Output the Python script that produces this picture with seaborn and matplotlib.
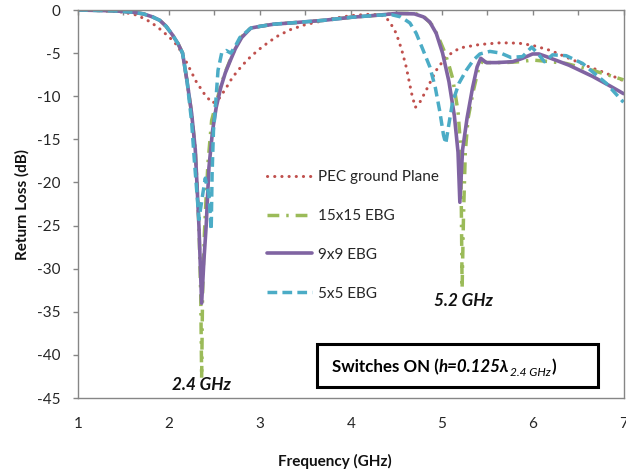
import matplotlib
matplotlib.use("Agg")
import matplotlib.pyplot as plt
from matplotlib.patches import Rectangle
import numpy as np
import pandas as pd
import seaborn as sns

# ---------------- data ----------------
series_names = ["PEC ground Plane", "15x15 EBG", "9x9 EBG", "5x5 EBG"]

pec_x = [1.0, 1.3, 1.5, 1.65, 1.8, 1.9, 2.0, 2.1, 2.2, 2.3, 2.4, 2.48, 2.55, 2.62, 2.7, 2.8, 2.9,
         3.0, 3.1, 3.2, 3.33, 3.5, 3.65, 3.8, 4.0, 4.2, 4.32, 4.38, 4.43, 4.5, 4.56, 4.61, 4.67,
         4.71, 4.76, 4.83, 4.94, 5.05, 5.2, 5.42, 5.65, 5.85, 6.0, 6.2, 6.4, 6.6, 6.8, 7.0]
pec_y = [0.0, -0.1, -0.25, -0.6, -1.4, -2.2, -3.1, -4.2, -6.2, -8.3, -9.9, -10.8, -10.3, -9.2, -7.8,
         -6.5, -5.4, -4.5, -3.7, -3.0, -2.3, -1.7, -1.35, -1.0, -0.65, -0.5, -0.55, -0.8, -1.4,
         -2.7, -4.6, -6.6, -9.7, -11.3, -10.7, -9.3, -7.0, -5.4, -4.4, -4.0, -3.8, -3.85, -4.1,
         -4.7, -5.6, -6.5, -7.3, -8.2]

ebg15_x = [1.0, 1.4, 1.6, 1.72, 1.82, 1.9, 1.97, 2.04, 2.1, 2.15, 2.2, 2.25, 2.29, 2.31, 2.33,
           2.35, 2.36, 2.37, 2.39, 2.41, 2.43, 2.47, 2.52, 2.57, 2.62, 2.67, 2.73, 2.8, 2.9, 3.0,
           3.15, 3.4, 3.7, 4.0, 4.3, 4.5, 4.7, 4.8, 4.9, 4.97, 5.03, 5.08, 5.12, 5.15, 5.18, 5.21,
           5.225, 5.24, 5.26, 5.29, 5.35, 5.41, 5.45, 5.5, 5.7, 5.86, 6.0, 6.2, 6.37, 6.66, 6.85,
           7.0]
ebg15_y = [0.0, -0.1, -0.25, -0.45, -0.8, -1.2, -1.9, -2.9, -3.9, -5.0, -8.3, -12.0, -16.2, -20.5,
           -25.0, -33.0, -42.7, -33.0, -26.0, -21.5, -17.7, -12.8, -10.8, -8.8, -7.2, -5.9, -4.4,
           -3.1, -2.1, -1.9, -1.65, -1.45, -1.2, -0.85, -0.6, -0.4, -0.4, -0.7, -1.8, -3.3, -4.8,
           -6.4, -7.9, -9.8, -11.8, -16.0, -32.3, -24.0, -16.5, -12.6, -9.3, -6.6, -5.9, -6.1,
           -6.1, -6.0, -5.8, -6.0, -6.2, -7.0, -7.6, -8.1]

ebg9_x = [1.0, 1.4, 1.6, 1.72, 1.82, 1.9, 1.97, 2.04, 2.1, 2.15, 2.2, 2.25, 2.29, 2.31, 2.33, 2.36,
          2.385, 2.41, 2.44, 2.48, 2.52, 2.57, 2.62, 2.67, 2.73, 2.8, 2.9, 3.0, 3.15, 3.4, 3.7, 4.0,
          4.3, 4.5, 4.7, 4.8, 4.87, 4.94, 5.01, 5.08, 5.14, 5.18, 5.2, 5.23, 5.28, 5.34, 5.39, 5.43,
          5.49, 5.6, 5.78, 5.89, 6.0, 6.07, 6.15, 6.4, 6.66, 6.85, 7.0]
ebg9_y = [0.0, -0.1, -0.25, -0.45, -0.8, -1.2, -1.9, -2.9, -3.9, -5.0, -8.3, -12.0, -16.2, -20.5,
          -25.0, -34.0, -29.0, -25.0, -18.3, -14.0, -11.3, -9.0, -7.3, -6.0, -4.5, -3.2, -2.1, -1.9,
          -1.65, -1.45, -1.2, -0.85, -0.6, -0.4, -0.45, -0.8, -1.4, -2.7, -5.0, -8.3, -12.3,
          -16.5, -22.3, -16.2, -12.5, -9.0, -6.6, -5.6, -6.1, -6.1, -6.0, -5.6, -5.1, -5.1, -5.4,
          -6.4, -7.7, -8.8, -9.7]

ebg5_x = [1.0, 1.4, 1.6, 1.72, 1.82, 1.9, 1.97, 2.04, 2.1, 2.15, 2.2, 2.25, 2.28, 2.31, 2.33, 2.37,
          2.4, 2.44, 2.465, 2.475, 2.49, 2.5, 2.52, 2.54, 2.58, 2.63, 2.68, 2.73, 2.78, 2.9, 3.0,
          3.15, 3.4, 3.7, 4.0, 4.3, 4.45, 4.55, 4.65, 4.72, 4.79, 4.87, 4.93, 4.98, 5.02, 5.045,
          5.08, 5.12, 5.19, 5.27, 5.35, 5.42, 5.53, 5.65, 5.76, 5.89, 5.99, 6.07, 6.13, 6.22, 6.37,
          6.55, 6.81, 7.0]
ebg5_y = [0.0, -0.1, -0.25, -0.45, -0.8, -1.2, -1.9, -2.9, -3.9, -5.0, -8.3, -13.0, -17.5, -21.5,
          -24.3, -21.5, -19.5, -21.5, -25.5, -19.0, -14.0, -12.8, -10.0, -7.0, -5.0, -4.7, -5.0,
          -4.2, -3.2, -2.1, -1.9, -1.65, -1.45, -1.2, -0.85, -0.6, -0.55, -0.8, -1.5, -2.7, -4.5,
          -6.6, -9.0, -11.8, -14.5, -15.5, -13.2, -10.7, -8.5, -7.0, -5.8, -5.1, -4.8, -5.0,
          -5.5, -5.4, -4.3, -5.2, -6.0, -5.2, -5.3, -6.2, -8.5, -10.7]

x_ticks = [1, 2, 3, 4, 5, 6, 7]
y_ticks = [0, -5, -10, -15, -20, -25, -30, -35, -40, -45]

# ---------------- style ----------------
sns.set_style("white")
plt.rcParams["font.family"] = ["Lato", "DejaVu Sans"]
plt.rcParams["axes.unicode_minus"] = False

colors = {"PEC ground Plane": "#C0504D", "15x15 EBG": "#9BBB59",
          "9x9 EBG": "#8064A2", "5x5 EBG": "#4BACC6"}
styles = {"PEC ground Plane": dict(lw=2.2, linestyle=(0, (0.05, 2.3)), dash_capstyle="round"),
          "15x15 EBG": dict(lw=2.5, linestyle=(0, (3.4, 2.0, 0.7, 2.0))),
          "9x9 EBG": dict(lw=2.6, linestyle="-"),
          "5x5 EBG": dict(lw=2.5, linestyle=(0, (2.8, 1.5)))}

data = {"PEC ground Plane": (pec_x, pec_y), "15x15 EBG": (ebg15_x, ebg15_y),
        "9x9 EBG": (ebg9_x, ebg9_y), "5x5 EBG": (ebg5_x, ebg5_y)}

W, H = 626, 474
fig = plt.figure(figsize=(W / 100, H / 100), dpi=100)
ax = fig.add_axes([78 / W, 1 - 398 / H, (623.5 - 78) / W, 388 / H])

for name in series_names:
    xs, ys = data[name]
    df = pd.DataFrame({"Frequency": xs, "RL": ys})
    sns.lineplot(data=df, x="Frequency", y="RL", ax=ax, color=colors[name], sort=False,
                 estimator=None, label=name, **styles[name])

ax.set_xlim(1, 7)
ax.set_ylim(-45, 0)
ax.set_xticks(x_ticks)
ax.set_xticklabels([str(v) for v in x_ticks])
ax.set_xticks(np.arange(1.5, 7, 1.0), minor=True)
ax.set_yticks(y_ticks)
ax.set_yticklabels([str(v) for v in y_ticks])
ax.set_xlabel("")
ax.set_ylabel("")

grey = "#868686"
for s in ax.spines.values():
    s.set_visible(True)
    s.set_color(grey)
    s.set_linewidth(1.0)

ax.tick_params(axis="x", which="both", top=True, bottom=False, labeltop=False,
               labelbottom=True, direction="in", length=3.6, width=1, color=grey,
               pad=14, labelsize=11, labelcolor="#262626")
ax.tick_params(axis="y", which="both", left=True, right=False, direction="out",
               length=3.6, width=1, color=grey, pad=9, labelsize=11, labelcolor="#262626")

fig.text(335 / W, 1 - 461 / H, "Frequency (GHz)", ha="center", va="center",
         fontsize=11, fontweight="bold", color="#111111")
fig.text(22 / W, 1 - 204 / H, "Return Loss (dB)", ha="center", va="center", rotation=90,
         fontsize=11, fontweight="bold", color="#111111")

# legend
handles, labels = ax.get_legend_handles_labels()
ax.legend(handles, labels, loc="upper left", bbox_to_anchor=(267 / W, 1 - 170 / H),
          bbox_transform=fig.transFigure, frameon=False, borderpad=0, borderaxespad=0,
          handlelength=2.95, handletextpad=0.4, labelspacing=1.63, fontsize=11)

# frequency annotations
ax.text(2.363, -43.5, "2.4 GHz", ha="center", va="center", fontsize=12.3,
        fontweight="bold", style="italic", color="#111111")
ax.text(5.24, -33.75, "5.2 GHz", ha="center", va="center", fontsize=12.3,
        fontweight="bold", style="italic", color="#111111")

# boxed note
ax.add_patch(Rectangle(((317 - 78) / 545.5, (398 - 387) / 388), (598 - 317) / 545.5,
                       (387 - 344) / 388, transform=ax.transAxes, fill=False,
                       lw=2.2, ec="black", zorder=5))
fs = 12.2
t1 = ax.text((332 - 78) / 545.5, (398 - 375) / 388, "Switches ON (", transform=ax.transAxes,
             ha="left", va="bottom", fontsize=fs, fontweight="bold", color="black")
t2 = ax.annotate("h=0.125λ", xy=(1, 0), xycoords=t1, ha="left", va="bottom", fontsize=fs,
                 fontweight="bold", style="italic", color="black")
t3 = ax.annotate("2.4 GHz", xy=(1, 0), xycoords=t2, xytext=(0.5, -2.5),
                 textcoords="offset points", ha="left", va="bottom", fontsize=8.6,
                 style="italic", color="black")
ax.annotate(")", xy=(1, 0), xycoords=(t3, t2), xytext=(0.5, 0), textcoords="offset points",
            ha="left", va="bottom", fontsize=fs, fontweight="bold", color="black")

fig.savefig("out.png", dpi=100)
